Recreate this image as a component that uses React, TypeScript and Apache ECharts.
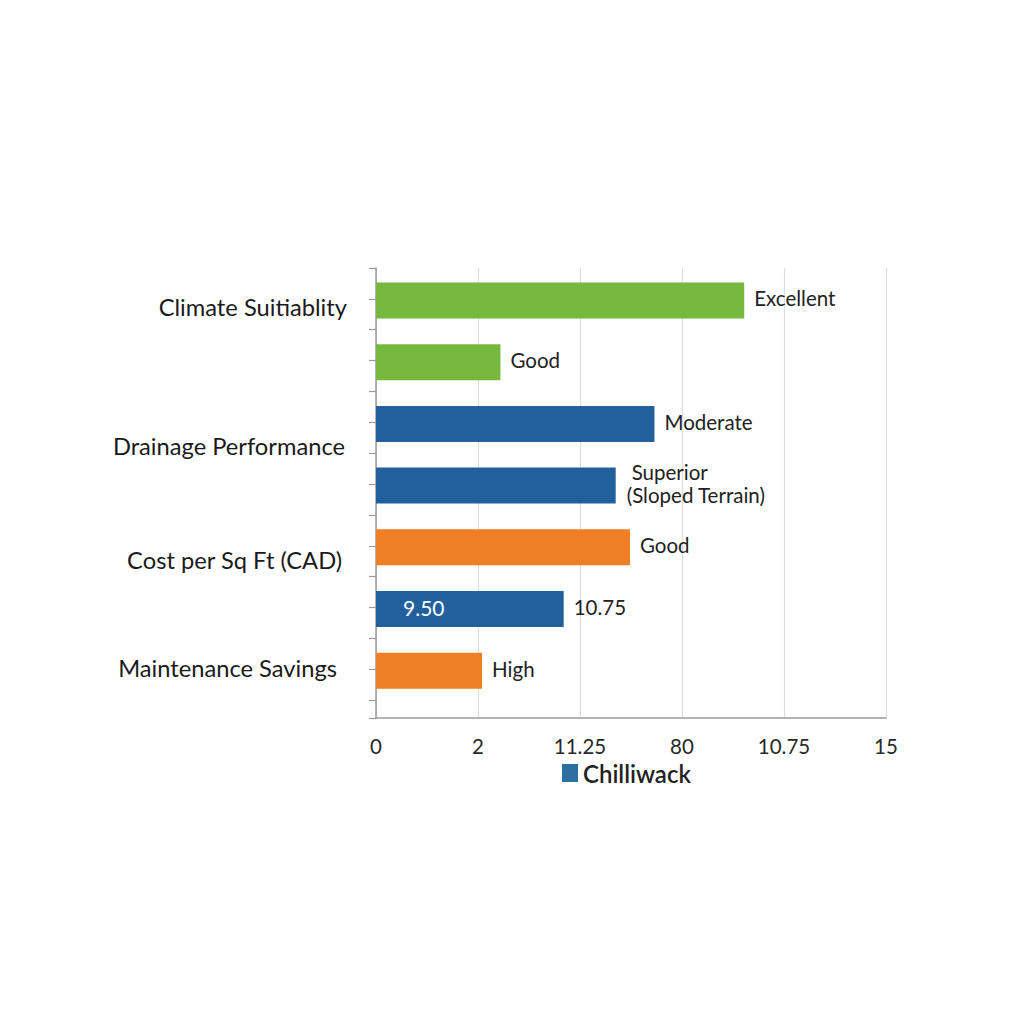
import { useEffect, useRef } from 'react';
import * as echarts from 'echarts';

const rowLabels = [
  'Climate Suitiablity',
  '',
  'Drainage Performance',
  '',
  'Cost per Sq Ft (CAD)',
  '',
  'Maintenance Savings',
];
const barValues = [3.61, 1.22, 2.73, 2.35, 2.49, 1.84, 1.04];
const barTexts = ['Excellent', 'Good', 'Moderate', 'Superior\n(Sloped Terrain)', 'Good', '10.75', 'High'];
const innerTexts = ['', '', '', '', '', '9.50', ''];
const xTickLabels = ['0', '2', '11.25', '80', '10.75', '15'];
const seriesName = 'Chilliwack';

const GREEN = '#77b83f';
const BLUE = '#22609d';
const ORANGE = '#ef7f24';
const barColors = [GREEN, GREEN, BLUE, BLUE, ORANGE, BLUE, ORANGE];

// per-row nudges of the category labels: [shift down, extra right gap]
const rowLabelNudge = [
  [7, 1],
  [0, 0],
  [22, 3],
  [0, 0],
  [13, 6],
  [0, 0],
  [-3, 11],
];

const FONT = 'Lato, "Noto Sans", sans-serif';

const App: React.FC = () => {
  const divRef = useRef<HTMLDivElement | null>(null);

  useEffect(() => {
    if (!divRef.current) return;
    const chart = echarts.init(divRef.current, undefined, { renderer: 'svg' });

    const rich: Record<string, any> = {};
    rowLabelNudge.forEach(([dy, pr], i) => {
      rich['r' + i] = {
        fontSize: 23.7,
        color: '#1a1a1a',
        fontFamily: FONT,
        padding: [dy > 0 ? dy * 2 : 0, pr, dy < 0 ? -dy * 2 : 0, 0],
      };
    });

    const mainData = barValues.map((v, i) => ({
      value: v,
      itemStyle: { color: barColors[i] },
      label: {
        formatter: i === 3 ? '{a|Superior}\n{b|(Sloped Terrain)}' : barTexts[i],
        distance: i === 3 ? 11 : 10,
      },
    }));
    const innerData = barValues.map((v, i) => (innerTexts[i] ? { value: v, label: { formatter: innerTexts[i] } } : '-'));

    chart.setOption({
      animation: false,
      backgroundColor: '#ffffff',
      textStyle: { fontFamily: FONT },
      legend: {
        data: [seriesName],
        left: 557,
        top: 756,
        icon: 'rect',
        itemWidth: 16,
        itemHeight: 18,
        itemGap: 8,
        textStyle: { fontSize: 24, fontWeight: 600, color: '#222', fontFamily: FONT },
      },
      grid: [
        { left: 376, top: 268, width: 510, height: 450 },
        { left: 376, top: 269.6, width: 510, height: 432 },
      ],
      xAxis: [
        {
          type: 'value',
          gridIndex: 0,
          min: 0,
          max: 5,
          interval: 1,
          axisLine: { show: true, onZero: false, lineStyle: { color: '#9a9a9a', width: 1.5 } },
          axisTick: { show: false },
          splitLine: { show: true, lineStyle: { color: '#dedede', width: 1.2 } },
          axisLabel: {
            margin: 17,
            fontSize: 20.5,
            color: '#2a2a2a',
            fontFamily: FONT,
            formatter: (_v: number, idx: number) => xTickLabels[idx] ?? '',
          },
        },
        {
          type: 'value',
          gridIndex: 1,
          min: 0,
          max: 5,
          show: false,
        },
      ],
      yAxis: [
        {
          type: 'value',
          gridIndex: 0,
          inverse: true,
          min: 0,
          max: 14.58,
          interval: 1,
          axisLine: { show: true, onZero: false, lineStyle: { color: '#9a9a9a', width: 1.5 } },
          axisTick: { show: true, length: 7, lineStyle: { color: '#9a9a9a', width: 1.2 } },
          axisLabel: { show: false },
          splitLine: { show: false },
        },
        {
          type: 'category',
          gridIndex: 1,
          inverse: true,
          data: rowLabels,
          axisLine: { show: false },
          axisTick: { show: false },
          splitLine: { show: false },
          axisLabel: {
            margin: 28,
            formatter: (v: string, idx: number) => (v ? `{r${idx}|${v}}` : ''),
            rich,
          },
        },
      ],
      series: [
        {
          name: seriesName,
          type: 'bar',
          xAxisIndex: 1,
          yAxisIndex: 1,
          barWidth: 36,
          barGap: '-100%',
          itemStyle: { color: '#2f6fa0' },
          data: mainData,
          label: {
            show: true,
            position: 'right',
            offset: [0, -2],
            fontSize: 20.5,
            color: '#222',
            fontFamily: FONT,
            lineHeight: 23,
            rich: {
              a: { fontSize: 20.5, color: '#222', fontFamily: FONT, lineHeight: 23, padding: [0, 0, 0, 5] },
              b: { fontSize: 20.5, color: '#222', fontFamily: FONT, lineHeight: 23 },
            },
          },
        },
        {
          name: 'inner',
          type: 'bar',
          xAxisIndex: 1,
          yAxisIndex: 1,
          barWidth: 36,
          barGap: '-100%',
          itemStyle: { color: 'rgba(0,0,0,0)' },
          data: innerData,
          label: {
            show: true,
            position: 'insideLeft',
            offset: [22, -2],
            fontSize: 21,
            color: '#ffffff',
            fontFamily: FONT,
          },
        },
      ],
    });

    return () => chart.dispose();
  }, []);

  return (
    <div
      ref={divRef}
      style={{ position: 'fixed', left: 0, top: 0, width: 1024, height: 1024 }}
    />
  );
};

export default App;
